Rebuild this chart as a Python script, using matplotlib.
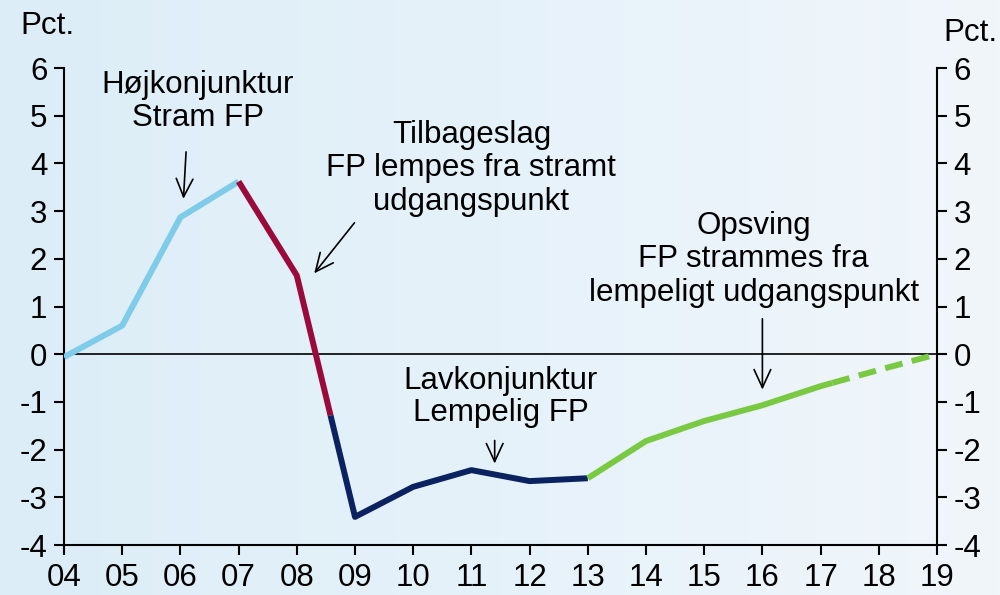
import numpy as np
import matplotlib.pyplot as plt
from matplotlib.colors import LinearSegmentedColormap

plt.rcParams['font.family'] = ['Liberation Sans', 'DejaVu Sans']
plt.rcParams['axes.unicode_minus'] = False

# data (pct.)
years = np.arange(2004, 2020)
values = [-0.06, 0.6, 2.87, 3.62, 1.65, -3.41, -2.78, -2.43, -2.66, -2.6,
          -1.82, -1.4, -1.07, -0.67, -0.33, 0.0]
year_labels = ["04", "05", "06", "07", "08", "09", "10", "11", "12", "13",
               "14", "15", "16", "17", "18", "19"]

# phases: (start, end, colour, linestyle)
phases = [
    (2004.0, 2007.0, "#7ECBEA", "-"),
    (2007.0, 2008.58, "#9A0B3B", "-"),
    (2008.58, 2013.0, "#0B2260", "-"),
    (2013.0, 2017.2, "#7AC943", "-"),
    (2017.2, 2019.0, "#7AC943", (0, (3, 1.6))),
]

fig = plt.figure(figsize=(10, 5.95), dpi=100)

# background gradient
bg = fig.add_axes([0, 0, 1, 1], zorder=-10)
grad = np.linspace(0, 1, 256).reshape(1, -1)
cmap = LinearSegmentedColormap.from_list("bg", ["#DCEDF7", "#E6F2FA", "#F1F6FB"])
bg.imshow(grad, aspect="auto", cmap=cmap, extent=[0, 1, 0, 1])
bg.axis("off")

ax = fig.add_axes([0.064, 0.084, 0.873, 0.8017])
ax.patch.set_alpha(0)

x = years.astype(float)
y = np.array(values)
for start, end, col, ls in phases:
    xs = np.concatenate(([start], x[(x > start) & (x < end)], [end]))
    ys = np.interp(xs, x, y)
    ax.plot(xs, ys, color=col, lw=4.3, ls=ls, solid_capstyle="butt", zorder=3)

ax.axhline(0, color="black", lw=1.2, zorder=2)

fs = 22.5
ax.set_xlim(2004, 2019)
ax.set_ylim(-4, 6)
ax.set_xticks(years)
ax.set_xticklabels(year_labels)
ax.set_yticks(range(-4, 7))
ax.tick_params(axis="both", direction="out", length=7, width=1.5, labelsize=fs, color="black")
ax.tick_params(axis="y", right=True, labelright=True, pad=5)
ax.tick_params(axis="x", pad=6)
ax.spines["top"].set_visible(False)
for s in ["left", "right", "bottom"]:
    ax.spines[s].set_linewidth(1.5)

fig.text(0.02, 0.957, "Pct.", fontsize=fs, ha="left", va="center")
fig.text(0.998, 0.945, "Pct.", fontsize=fs, ha="right", va="center")

arrow = dict(arrowstyle="->,head_length=1.3,head_width=0.6", color="black", lw=1.2)
ax.text(2006.3, 5.3, "Højkonjunktur\nStram FP", fontsize=fs, ha="center", va="center", linespacing=1.15)
ax.annotate("", xy=(2006.05, 3.2), xytext=(2006.1, 4.3), arrowprops=arrow)

ax.text(2011.0, 3.9, "Tilbageslag\nFP lempes fra stramt\nudgangspunkt", fontsize=fs, ha="center",
        va="center", linespacing=1.15)
ax.annotate("", xy=(2008.27, 1.65), xytext=(2009.02, 2.8), arrowprops=arrow)

ax.text(2011.5, -0.9, "Lavkonjunktur\nLempelig FP", fontsize=fs, ha="center", va="center", linespacing=1.1)
ax.annotate("", xy=(2011.4, -2.35), xytext=(2011.4, -1.75), arrowprops=arrow)

ax.text(2015.85, 1.99, "Opsving\nFP strammes fra\nlempeligt udgangspunkt", fontsize=fs, ha="center",
        va="center", linespacing=1.15)
ax.annotate("", xy=(2016.0, -0.8), xytext=(2016.0, 0.8), arrowprops=arrow)

fig.savefig("out.png", dpi=100, facecolor=fig.get_facecolor())
